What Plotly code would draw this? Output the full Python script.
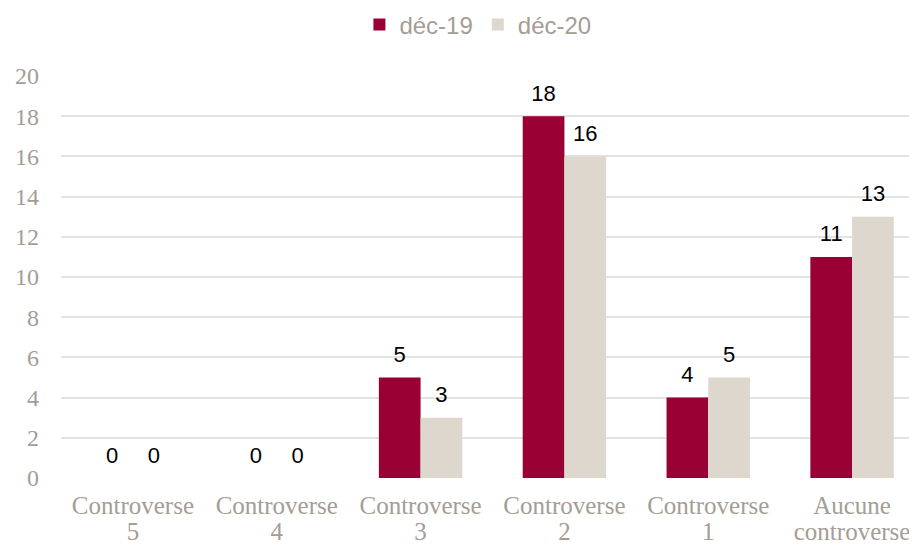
import plotly.graph_objects as go

categories = ["Controverse<br>5", "Controverse<br>4", "Controverse<br>3",
              "Controverse<br>2", "Controverse<br>1", "Aucune<br>controverse"]
dec19 = [0, 0, 5, 18, 4, 11]
dec20 = [0, 0, 3, 16, 5, 13]
series_names = ["déc-19", "déc-20"]
ticks = list(range(0, 21, 2))

red = "#990033"
beige = "#DED7CD"
gray = "#A59D95"
serif = "Liberation Serif, Georgia, serif"
sans = "Liberation Sans, Arial"

W, H = 916, 546  # page body has an 8px margin

tick_text = ["<br>".join(f"<span style='font-size:25px'>{part}</span>" for part in c.split("<br>"))
             for c in categories]

fig = go.Figure()
for name, vals, col in [(series_names[0], dec19, red), (series_names[1], dec20, beige)]:
    fig.add_trace(go.Bar(
        x=categories, y=vals, name=name, marker_color=col, marker_line_width=0,
        text=[f"<span style='font-size:22px'>{v}</span><br> " for v in vals],
        textposition="outside", cliponaxis=False, constraintext="none",
        textfont=dict(family=sans, size=8, color="#000000"),
    ))

fig.update_layout(
    width=W, height=H,
    margin=dict(l=53, r=0, t=68, b=76, autoexpand=False),
    paper_bgcolor="white", plot_bgcolor="white",
    barmode="group", bargap=0.42, bargroupgap=0,
    legend=dict(orientation="h", x=0.513, xanchor="center", xref="container",
                y=1 - 17 / H, yanchor="middle", yref="container",
                font=dict(family=sans, size=24, color=gray),
                itemwidth=30, traceorder="normal"),
    showlegend=True,
)
fig.update_yaxes(range=[0, 20], tickvals=ticks, showgrid=True, gridcolor="#E3E3E3",
                 gridwidth=1.5, zeroline=False, showline=False, automargin=False,
                 tickfont=dict(family=serif, size=24, color=gray),
                 ticklabelstandoff=21)
fig.update_xaxes(showline=False, showgrid=False, automargin=False,
                 tickmode="array", tickvals=categories, ticktext=tick_text,
                 tickfont=dict(family=serif, size=20, color=gray),
                 ticklabelstandoff=15)

fig.write_html("out.html")
